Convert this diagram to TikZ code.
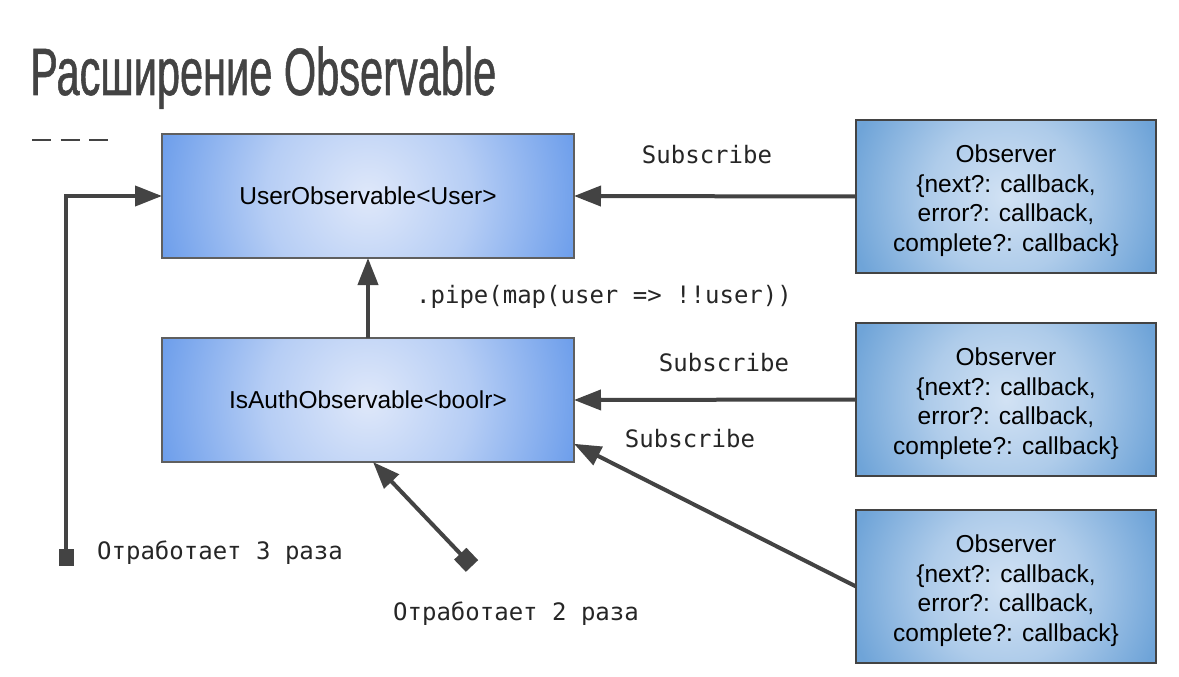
\documentclass[tikz,border=0pt]{standalone}
\usepackage{fontspec}
\setmainfont{Liberation Sans}
\newfontfamily\codefont{DejaVu Sans Mono}
\newfontfamily\titlefont[FakeStretch=0.62,FakeBold=0.8]{Liberation Sans}
\usetikzlibrary{arrows.meta,shadings,positioning}

\definecolor{linegray}{RGB}{67,67,67}
\definecolor{framegray}{RGB}{95,95,95}
\definecolor{boxedge}{RGB}{109,158,235}
\definecolor{boxcenter}{RGB}{223,232,250}
\definecolor{obsedge}{RGB}{111,164,216}
\definecolor{obscenter}{RGB}{210,226,244}

\pgfdeclareradialshading{boxglow}{\pgfpoint{0bp}{0bp}}{color(0bp)=(boxcenter); color(12bp)=(boxcenter!64!boxedge); color(25bp)=(boxedge); color(50bp)=(boxedge)}
\pgfdeclareradialshading{obsglow}{\pgfpoint{0bp}{0bp}}{color(0bp)=(obscenter); color(12bp)=(obscenter!64!obsedge); color(25bp)=(obsedge); color(50bp)=(obsedge)}

\newcommand{\observertext}{\rule{0pt}{26pt}Observer\\\{next?: callback,\\error?: callback,\\complete?: callback\}}

\begin{document}
\begin{tikzpicture}[x=1pt, y=-1pt,
  observable/.style = {draw = framegray, line width = 1.2pt, fill = boxedge,
    path picture = {\shade[shading = boxglow] (path picture bounding box.center) circle (214pt);},
    minimum width = 412pt, minimum height = 124pt, inner sep = 0pt, outer sep = 0pt,
    font = \fontsize{24.5}{29}\selectfont},
  observer/.style = {draw = linegray, line width = 1.2pt, fill = obsedge,
    path picture = {\shade[shading = obsglow] (path picture bounding box.center) circle (160pt);},
    minimum width = 300pt, minimum height = 153pt, inner sep = 0pt, outer sep = 0pt, align = center,
    font = \fontsize{24.5}{29.4}\selectfont},
  flow/.style = {draw = linegray, line width = 4pt, -{Triangle[length = 27pt, width = 20pt]}},
  code/.style = {font = \codefont\fontsize{24}{28}\selectfont, text = black!85, inner sep = 0pt}]

\fill[white] (0,0) rectangle (1179,677);
\useasboundingbox (0,0) rectangle (1179,677);

% title
\node[anchor = base west, inner sep = 0pt, text = linegray, font = \titlefont\fontsize{67}{70}\selectfont] (title) at (30,95) {Расширение Observable};
\draw[linegray, line width = 2pt, dash pattern = on 19pt off 9.5pt] (32,140) -- (110,140);

% observables
\node[observable] (userobs) at (368,196) {UserObservable<User>};
\node[observable] (authobs) at (368,400) {IsAuthObservable<boolr>};

% observers
\node[observer] (obs1) at (1006,196.5) {\observertext};
\node[observer] (obs2) at (1006,399.5) {\observertext};
\node[observer] (obs3) at (1006,586.5) {\observertext};

% subscriptions
\draw[flow] (obs1.west) -- (userobs.east);
\draw[flow] (obs2.west) -- (authobs.east);
\draw[flow] (obs3.west) -- (authobs.348);
\draw[flow] (authobs.north) -- (userobs.south);

% side effects
\coordinate (runsthree) at (66,565.5);
\coordinate (runstwo) at (472,566);
\draw[flow, {Square[length = 17pt, width = 15pt]}-{Triangle[length = 27pt, width = 20pt]}] (runsthree) |- (userobs.west);
\draw[flow, {Square[length = 17pt, width = 17pt]}-{Triangle[length = 27pt, width = 20pt]}] (runstwo) -- ([xshift = 5pt]authobs.south);

% labels
\node[code] (sub1) at (707,155) {Subscribe};
\node[code] (sub2) at (724,363) {Subscribe};
\node[code] (sub3) at (690,439) {Subscribe};
\node[code] (pipe) at (604,297) {.pipe(map(user => !!user))};
\node[code, anchor = west] (three) at (97,553) {Отработает 3 раза};
\node[code, anchor = west] (two) at (393,614) {Отработает 2 раза};
\end{tikzpicture}
\end{document}
